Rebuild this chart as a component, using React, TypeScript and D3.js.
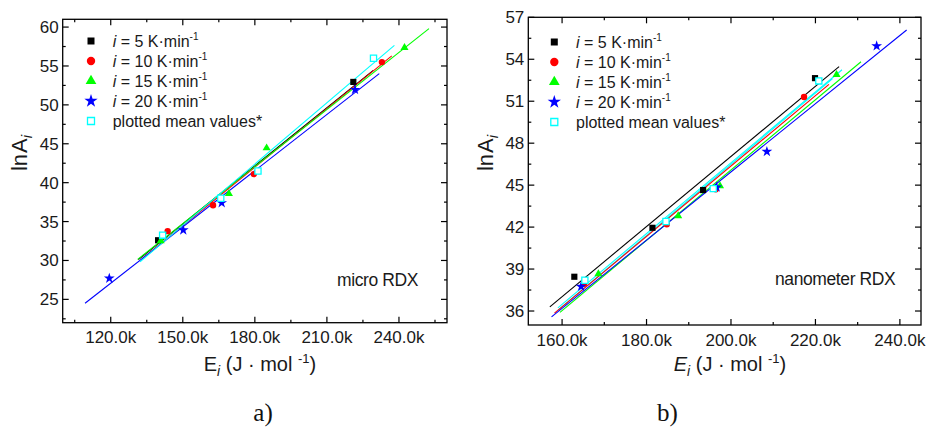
import React from 'react';
import * as d3 from 'd3';

const W = 927;
const H = 428;
const FONT = "'Liberation Sans', Arial, sans-serif";

// ---------- Panel a: micro RDX ----------
const aXMajor = [120, 150, 180, 210, 240];
const aXMinor = [105, 135, 165, 195, 225, 255];
const aXLabels = ['120.0k', '150.0k', '180.0k', '210.0k', '240.0k'];
const aYMajor = [25, 30, 35, 40, 45, 50, 55, 60];
const aYMinor = [22.5, 27.5, 32.5, 37.5, 42.5, 47.5, 52.5, 57.5];
const aYLabels = ['25', '30', '35', '40', '45', '50', '55', '60'];

const a5 = [[139.7, 32.6], [221.0, 52.95]];
const a10 = [[143.7, 33.77], [162.6, 37.1], [179.6, 41.1], [232.9, 55.5]];
const a15 = [[140.8, 32.5], [169.2, 38.6], [184.9, 44.45], [242.3, 57.35]];
const a20 = [[119.4, 27.7], [150.2, 33.9], [166.2, 37.4], [221.7, 51.95]];
const aMean = [[141.6, 33.25], [165.8, 38.0], [181.3, 41.5], [229.4, 56.0]];

const aFit5 = [[131.5, 30.1], [229.3, 54.44]];
const aFit10 = [[133.0, 30.2], [237.0, 56.3]];
const aFit15 = [[131.2, 30.14], [252.5, 59.8]];
const aFit20 = [[109.3, 24.5], [231.8, 54.02]];
const aFitMean = [[132.2, 29.83], [238.1, 57.65]];

// ---------- Panel b: nanometer RDX ----------
const bXMajor = [160, 180, 200, 220, 240];
const bXMinor = [170, 190, 210, 230];
const bXLabels = ['160.0k', '180.0k', '200.0k', '220.0k', '240.0k'];
const bYMajor = [36, 39, 42, 45, 48, 51, 54, 57];
const bYMinor = [37.5, 40.5, 43.5, 46.5, 49.5, 52.5, 55.5];
const bYLabels = ['36', '39', '42', '45', '48', '51', '54', '57'];

const b5 = [[162.9, 38.45], [181.4, 41.95], [193.4, 44.65], [219.9, 52.65]];
const b10 = [[165.2, 37.95], [184.8, 42.2], [196.4, 44.7], [217.3, 51.3]];
const b15 = [[168.6, 38.65], [187.5, 42.8], [197.4, 44.95], [225.0, 52.9]];
const b20 = [[164.5, 37.75], [196.6, 44.85], [208.5, 47.4], [234.5, 54.95]];
const bMean = [[165.4, 38.2], [184.6, 42.4], [195.8, 44.75], [220.8, 52.45]];

const bFit5 = [[157.1, 36.3], [225.6, 53.47]];
const bFit10 = [[158.2, 35.85], [223.2, 52.2]];
const bFit15 = [[159.5, 35.9], [230.8, 53.82]];
const bFit20 = [[157.5, 35.58], [241.6, 56.09]];
const bFitMeanA = [[159.0, 36.23], [226.3, 53.25]];
const bFitMeanB = [[159.0, 36.05], [224.0, 52.6]];

const legendRates = ['5', '10', '15', '20'];
const COLORS = ['#000000', '#ff0000', '#00ff00', '#0000ff', '#00ffff'];
const SYMBOLS = [d3.symbolSquare, d3.symbolCircle, d3.symbolTriangle, d3.symbolStar, d3.symbolSquare];
const DATA_SIZES = [38, 32, 28, 36, 38];
const LEG_SIZES = [49, 55, 50, 55, 49];

function symPath(i: number, size: number) {
  return d3.symbol().type(SYMBOLS[i]).size(size)() || '';
}

function Marker({ i, x, y, size }: { i: number; x: number; y: number; size: number }) {
  const isMean = i === 4;
  return (
    <path
      d={symPath(i, size)}
      transform={`translate(${x},${y})`}
      fill={isMean ? '#ffffff' : COLORS[i]}
      stroke={isMean ? COLORS[4] : 'none'}
      strokeWidth={isMean ? 1.3 : 0}
    />
  );
}

type PanelProps = {
  box: { x0: number; x1: number; y0: number; y1: number };
  xDom: [number, number];
  yDom: [number, number];
  xMajor: number[];
  xMinor: number[];
  xLabels: string[];
  yMajor: number[];
  yMinor: number[];
  yLabels: string[];
  series: number[][][];
  fits: { c: number; pts: number[][] }[];
  legSymX: number;
  legTextX: number;
  legY0: number;
  note: string;
  noteX: number;
  noteY: number;
  italicE: boolean;
  panelLabel: string;
  panelLabelX: number;
  yTitleX: number;
  xTitleX: number;
};

function Panel(p: PanelProps) {
  const { box } = p;
  const x = d3.scaleLinear().domain(p.xDom).range([box.x0, box.x1]);
  const y = d3.scaleLinear().domain(p.yDom).range([box.y1, box.y0]);
  const line = d3.line<number[]>().x(d => x(d[0])).y(d => y(d[1]));
  const MAJ = 6;
  const MIN = 3;
  return (
    <g>
      {p.fits.map((f, k) => (
        <path key={'f' + k} d={line(f.pts) || ''} stroke={COLORS[f.c]} strokeWidth={1.1} fill="none" />
      ))}
      {p.series.map((s, i) =>
        s.map((d, j) => <Marker key={`m${i}-${j}`} i={i} x={x(d[0])} y={y(d[1])} size={DATA_SIZES[i]} />)
      )}
      <rect x={box.x0} y={box.y0} width={box.x1 - box.x0} height={box.y1 - box.y0} fill="none" stroke="#000" strokeWidth={1.3} />
      {p.xMajor.map(v => (
        <g key={'xM' + v}>
          <line x1={x(v)} x2={x(v)} y1={box.y1} y2={box.y1 - MAJ} stroke="#000" strokeWidth={1.2} />
          <line x1={x(v)} x2={x(v)} y1={box.y0} y2={box.y0 + MAJ} stroke="#000" strokeWidth={1.2} />
        </g>
      ))}
      {p.xMinor.map(v => (
        <g key={'xm' + v}>
          <line x1={x(v)} x2={x(v)} y1={box.y1} y2={box.y1 - MIN} stroke="#000" strokeWidth={1.2} />
          <line x1={x(v)} x2={x(v)} y1={box.y0} y2={box.y0 + MIN} stroke="#000" strokeWidth={1.2} />
        </g>
      ))}
      {p.yMajor.map(v => (
        <g key={'yM' + v}>
          <line x1={box.x0} x2={box.x0 + MAJ} y1={y(v)} y2={y(v)} stroke="#000" strokeWidth={1.2} />
          <line x1={box.x1} x2={box.x1 - MAJ} y1={y(v)} y2={y(v)} stroke="#000" strokeWidth={1.2} />
        </g>
      ))}
      {p.yMinor.map(v => (
        <g key={'ym' + v}>
          <line x1={box.x0} x2={box.x0 + MIN} y1={y(v)} y2={y(v)} stroke="#000" strokeWidth={1.2} />
          <line x1={box.x1} x2={box.x1 - MIN} y1={y(v)} y2={y(v)} stroke="#000" strokeWidth={1.2} />
        </g>
      ))}
      {p.xMajor.map((v, k) => (
        <text key={'xl' + v} x={x(v)} y={box.y1 + 20.5} textAnchor="middle" fontSize={17} fontFamily={FONT} fill="#1a1a1a">
          {p.xLabels[k]}
        </text>
      ))}
      {p.yMajor.map((v, k) => (
        <text key={'yl' + v} x={box.x0 - 4} y={y(v) + 6} textAnchor="end" fontSize={17} fontFamily={FONT} fill="#1a1a1a">
          {p.yLabels[k]}
        </text>
      ))}
      {[0, 1, 2, 3, 4].map(i => {
        const cy = p.legY0 + i * 20;
        return (
          <g key={'lg' + i}>
            <Marker i={i} x={p.legSymX} y={cy} size={LEG_SIZES[i]} />
            {i < 4 ? (
              <text x={p.legTextX} y={cy + 5.5} fontSize={16} fontFamily={FONT} fill="#1a1a1a">
                <tspan fontStyle="italic">i</tspan>
                <tspan>{` = ${legendRates[i]} K·min`}</tspan>
                <tspan fontSize={10} dy={-7}>-1</tspan>
              </text>
            ) : (
              <text x={p.legTextX} y={cy + 5.5} fontSize={16} fontFamily={FONT} fill="#1a1a1a">
                plotted mean values*
              </text>
            )}
          </g>
        );
      })}
      <text x={p.noteX} y={p.noteY} fontSize={17.5} fontFamily={FONT} fill="#1a1a1a" letterSpacing={-0.4}>
        {p.note}
      </text>
      <text
        transform={`translate(${p.yTitleX},${153}) rotate(-90)`}
        textAnchor="middle"
        fontSize={22}
        fontFamily={FONT}
        fill="#1a1a1a"
      >
        <tspan>ln</tspan>
        <tspan dx={1}>A</tspan>
        <tspan fontSize={15} fontStyle="italic" dy={5}>i</tspan>
      </text>
      <text x={p.xTitleX} y={371} textAnchor="middle" fontSize={20} fontFamily={FONT} fill="#1a1a1a">
        <tspan fontStyle={p.italicE ? 'italic' : 'normal'}>E</tspan>
        <tspan fontSize={14} fontStyle="italic" dy={5}>i</tspan>
        <tspan dy={-5}>{' (J · mol '}</tspan>
        <tspan fontSize={13} dy={-8}>-1</tspan>
        <tspan dy={8}>)</tspan>
      </text>
      <text x={p.panelLabelX} y={421} textAnchor="middle" fontSize={25} fontFamily="'Liberation Serif', 'Times New Roman', serif" fill="#111">
        {p.panelLabel}
      </text>
    </g>
  );
}

export default function App() {
  return (
    <svg width={W} height={H} style={{ position: 'absolute', left: 0, top: 0, background: '#fff' }}>
      <rect width={W} height={H} fill="#fff" />
      <Panel
        box={{ x0: 62.7, x1: 447, y0: 19.3, y1: 322.7 }}
        xDom={[100, 260]}
        yDom={[22, 61]}
        xMajor={aXMajor}
        xMinor={aXMinor}
        xLabels={aXLabels}
        yMajor={aYMajor}
        yMinor={aYMinor}
        yLabels={aYLabels}
        series={[a5, a10, a15, a20, aMean]}
        fits={[
          { c: 0, pts: aFit5 },
          { c: 1, pts: aFit10 },
          { c: 2, pts: aFit15 },
          { c: 3, pts: aFit20 },
          { c: 4, pts: aFitMean },
        ]}
        legSymX={91}
        legTextX={112.7}
        legY0={41}
        note="micro RDX"
        noteX={337}
        noteY={286}
        italicE={false}
        panelLabel="a)"
        panelLabelX={263}
        yTitleX={27}
        xTitleX={260}
      />
      <Panel
        box={{ x0: 528.3, x1: 921, y0: 17.3, y1: 325 }}
        xDom={[152, 245]}
        yDom={[35, 57]}
        xMajor={bXMajor}
        xMinor={bXMinor}
        xLabels={bXLabels}
        yMajor={bYMajor}
        yMinor={bYMinor}
        yLabels={bYLabels}
        series={[b5, b10, b15, b20, bMean]}
        fits={[
          { c: 0, pts: bFit5 },
          { c: 4, pts: bFitMeanA },
          { c: 4, pts: bFitMeanB },
          { c: 1, pts: bFit10 },
          { c: 2, pts: bFit15 },
          { c: 3, pts: bFit20 },
        ]}
        legSymX={554.3}
        legTextX={576}
        legY0={42}
        note="nanometer RDX"
        noteX={775}
        noteY={285}
        italicE={true}
        panelLabel="b)"
        panelLabelX={667.5}
        yTitleX={493}
        xTitleX={730}
      />
    </svg>
  );
}
